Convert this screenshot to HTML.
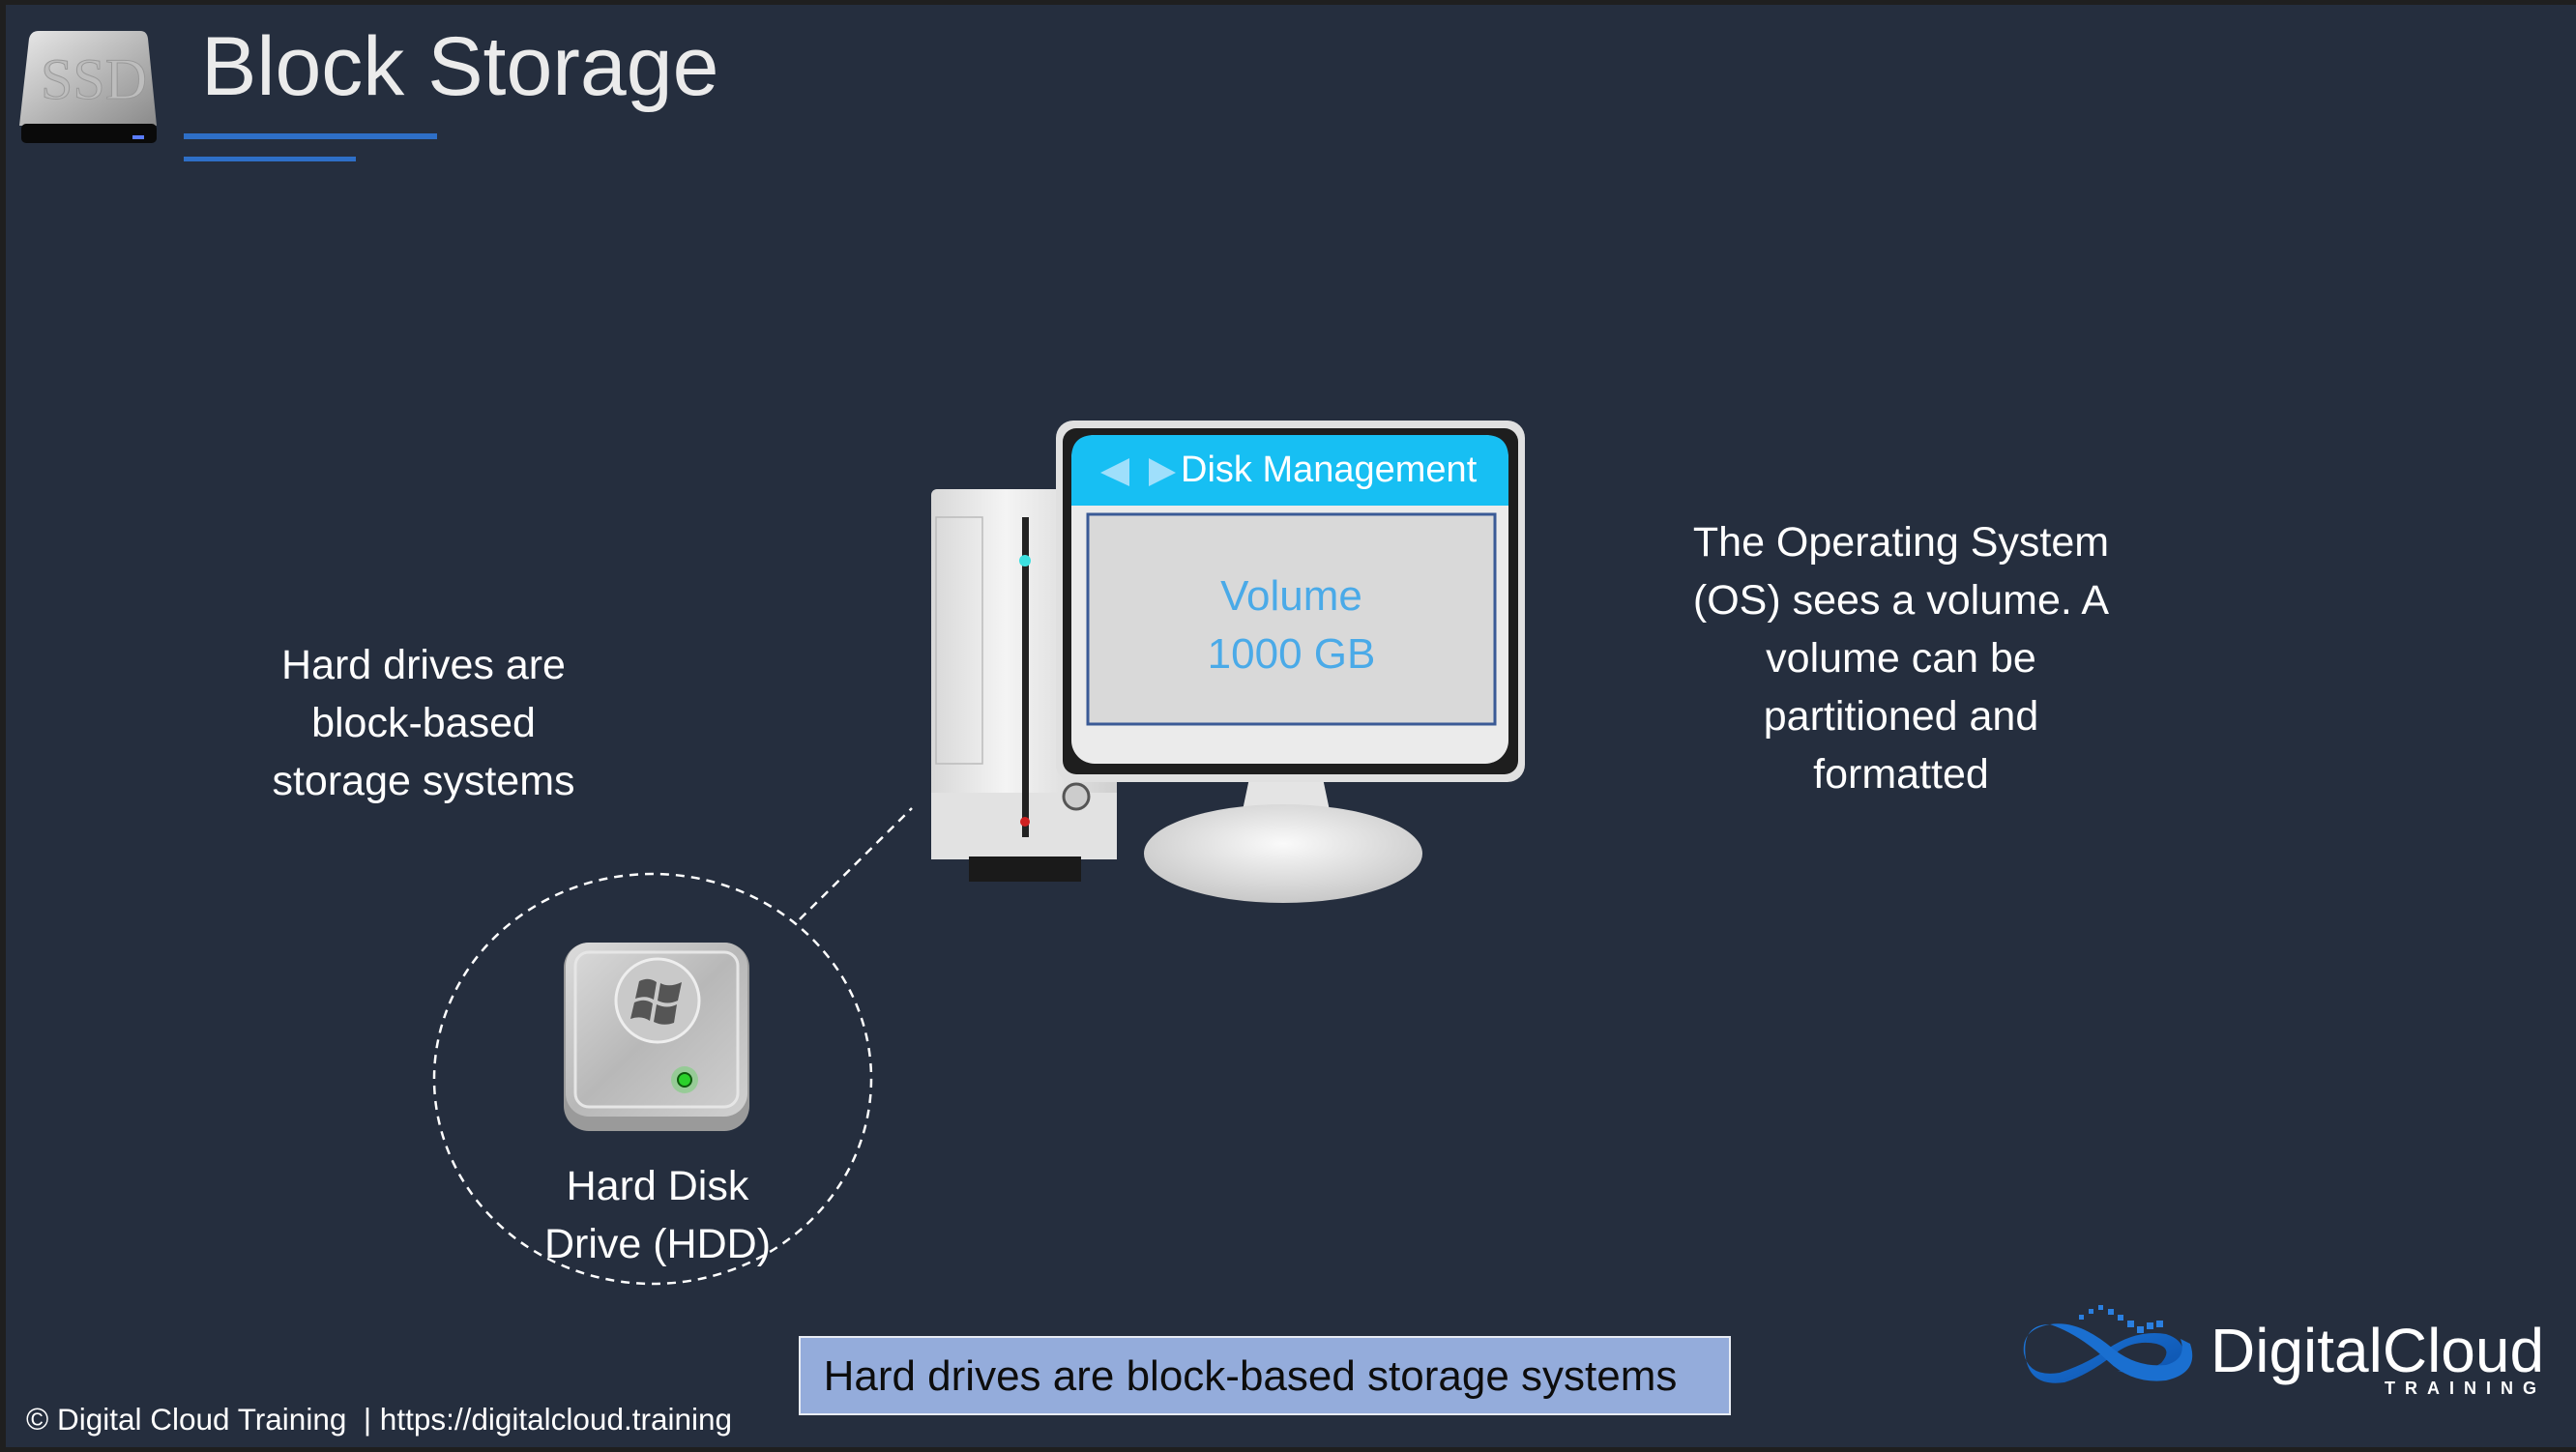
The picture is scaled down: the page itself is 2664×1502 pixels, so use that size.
<!DOCTYPE html>
<html><head><meta charset="utf-8"><style>
html,body{margin:0;padding:0}
body{width:2664px;height:1502px;background:#1f1f1f;position:relative;overflow:hidden;font-family:"Liberation Sans",sans-serif}
#bg{position:absolute;left:6px;top:5px;width:2658px;height:1492px;background:#252e3e}
.t{position:absolute;color:#fff;white-space:nowrap}
.c{text-align:center}
</style></head><body>
<div id="bg"></div>
<svg width="2664" height="1502" style="position:absolute;left:0;top:0">
<defs>
<linearGradient id="ssd" x1="0" y1="0" x2="1" y2="1"><stop offset="0" stop-color="#e8e8e8"/><stop offset="1" stop-color="#8a8a8a"/></linearGradient>
<linearGradient id="hdd" x1="0" y1="0" x2="1" y2="1"><stop offset="0" stop-color="#dcdcdc"/><stop offset="0.5" stop-color="#b8b8b8"/><stop offset="1" stop-color="#d0d0d0"/></linearGradient>
<linearGradient id="tow" x1="0" y1="0" x2="1" y2="0"><stop offset="0" stop-color="#d8d8d8"/><stop offset="0.4" stop-color="#f4f4f4"/><stop offset="1" stop-color="#cfcfcf"/></linearGradient>
<radialGradient id="base" cx="0.5" cy="0.4" r="0.6"><stop offset="0" stop-color="#fafafa"/><stop offset="1" stop-color="#c8c8c8"/></radialGradient>
<linearGradient id="logo" x1="0" y1="0" x2="1" y2="1"><stop offset="0" stop-color="#1f7be0"/><stop offset="1" stop-color="#0b4fa8"/></linearGradient>
</defs>
<path d="M40 32 L145 32 Q152 32 153 40 L162 130 L20 130 L30 40 Q32 32 40 32Z" fill="url(#ssd)"/>
<rect x="22" y="128" width="140" height="20" rx="5" fill="#0a0a0a"/>
<rect x="137" y="140" width="12" height="4" fill="#5a7cff"/>
<text x="42" y="102" font-family="Liberation Serif" font-size="60" fill="#bdbdbd" stroke="#999" stroke-width="1">SSD</text>
<rect x="190" y="138" width="262" height="6" fill="#2e6fc7"/>
<rect x="190" y="162" width="178" height="5" fill="#2e6fc7"/>
<ellipse cx="675" cy="1116" rx="226" ry="212" fill="none" stroke="#fff" stroke-width="2.5" stroke-dasharray="9,7"/>
<line x1="827" y1="951" x2="943" y2="836" stroke="#fff" stroke-width="2.5" stroke-dasharray="9,7"/>
<rect x="583" y="975" width="192" height="195" rx="26" fill="#9a9a9a"/>
<rect x="585" y="975" width="188" height="180" rx="24" fill="url(#hdd)"/>
<rect x="595" y="985" width="168" height="160" rx="14" fill="none" stroke="#e6e6e6" stroke-width="3"/>
<circle cx="680" cy="1035" r="43" fill="#c9c9c9" stroke="#eee" stroke-width="3"/>
<path d="M661 1015 Q671 1010 679 1016 L676 1034 Q668 1029 657 1033Z M683 1017 Q692 1022 705 1016 L701 1035 Q690 1040 680 1035Z M656 1037 Q667 1032 675 1038 L672 1056 Q663 1050 652 1054Z M679 1039 Q690 1044 700 1039 L697 1058 Q686 1062 676 1057Z" fill="#555"/>
<circle cx="708" cy="1117" r="14" fill="#7ad17a" opacity="0.6"/>
<circle cx="708" cy="1117" r="7" fill="#2bd12b" stroke="#0d5a0d" stroke-width="2"/>
<rect x="963" y="506" width="192" height="383" rx="6" fill="url(#tow)"/>
<rect x="963" y="820" width="192" height="69" fill="#e2e2e2"/>
<rect x="1002" y="886" width="116" height="26" fill="#1a1a1a"/>
<rect x="1057" y="535" width="7" height="331" fill="#222"/>
<circle cx="1060" cy="580" r="6" fill="#3de0e0"/>
<circle cx="1060" cy="850" r="5" fill="#d02020"/>
<rect x="968" y="535" width="48" height="255" fill="none" stroke="#bbb" stroke-width="1.5"/>
<circle cx="1113" cy="824" r="13" fill="#ccc" stroke="#555" stroke-width="3"/>
<path d="M1292 805 L1368 805 L1380 862 L1280 862Z" fill="#e4e4e4"/>
<ellipse cx="1327" cy="883" rx="144" ry="51" fill="url(#base)"/>
<rect x="1092" y="435" width="485" height="374" rx="18" fill="#e0e0e0"/>
<rect x="1099" y="443" width="471" height="358" rx="14" fill="#1e1e1e"/>
<rect x="1108" y="450" width="452" height="340" rx="24" fill="#ebebeb"/>
<path d="M1108 523 L1108 474 Q1108 450 1132 450 L1536 450 Q1560 450 1560 474 L1560 523Z" fill="#17bff3"/>
<polygon points="1168,474 1168,503 1138,489" fill="#9fdffb"/>
<polygon points="1188,474 1188,503 1216,489" fill="#9fdffb"/>
<rect x="1125" y="532" width="421" height="217" fill="#d9d9d9" stroke="#3a5a96" stroke-width="3"/>
</svg>
<div class="t" style="left:208px;top:20px;font-size:86px;color:#ebebeb">Block Storage</div>
<div class="t" style="left:1221px;top:465px;font-size:38px">Disk Management</div>
<div class="t c" style="left:1125px;width:421px;top:587px;font-size:44px;line-height:60px;color:#4aaae8">Volume<br>1000 GB</div>
<div class="t c" style="left:188px;width:500px;top:658px;font-size:43px;line-height:60px">Hard drives are<br>block-based<br>storage systems</div>
<div class="t c" style="left:1716px;width:500px;top:531px;font-size:43px;line-height:60px">The Operating System<br>(OS) sees a volume. A<br>volume can be<br>partitioned and<br>formatted</div>
<div class="t c" style="left:480px;width:400px;top:1197px;font-size:43px;line-height:60px">Hard Disk<br>Drive (HDD)</div>
<div style="position:absolute;left:826px;top:1382px;width:960px;height:78px;background:#94acdb;border:2px solid #e8ecf4"></div>
<div class="t c" style="left:811px;width:964px;top:1399px;font-size:44px;color:#0d0d0d">Hard drives are block-based storage systems</div>
<div class="t" style="left:27px;top:1450px;font-size:31.5px">© Digital Cloud Training &nbsp;| https://digitalcloud.training</div>
<svg width="200" height="110" style="position:absolute;left:2090px;top:1340px" viewBox="0 0 200 110">
<path d="M30 30 Q0 35 3 60 Q8 85 40 80 Q70 70 90 55 Q120 35 150 40 Q175 48 165 72 Q155 90 125 85 L100 78 Q130 80 145 70 Q158 55 140 50 Q115 45 95 62 Q70 82 45 90 Q10 95 5 65 Q0 30 30 30Z" fill="url(#logo)"/>
<path d="M30 30 Q60 25 95 55 Q120 75 150 72 Q172 66 165 45 L175 50 Q185 80 150 88 Q115 92 90 68 Q60 40 30 30Z" fill="#1a6fd0"/>
<g fill="#2a7fe0"><rect x="60" y="20" width="5" height="5"/><rect x="70" y="14" width="5" height="5"/><rect x="80" y="10" width="5" height="5"/><rect x="90" y="14" width="6" height="6"/><rect x="100" y="20" width="6" height="6"/><rect x="110" y="26" width="7" height="7"/><rect x="120" y="32" width="7" height="7"/><rect x="130" y="28" width="7" height="7"/><rect x="140" y="26" width="7" height="7"/></g>
</svg>
<div class="t" style="left:2286px;top:1360px;font-size:64px">DigitalCloud</div>
<div class="t" style="left:2466px;top:1426px;font-size:18px;font-weight:bold;letter-spacing:10px">TRAINING</div>
</body></html>
